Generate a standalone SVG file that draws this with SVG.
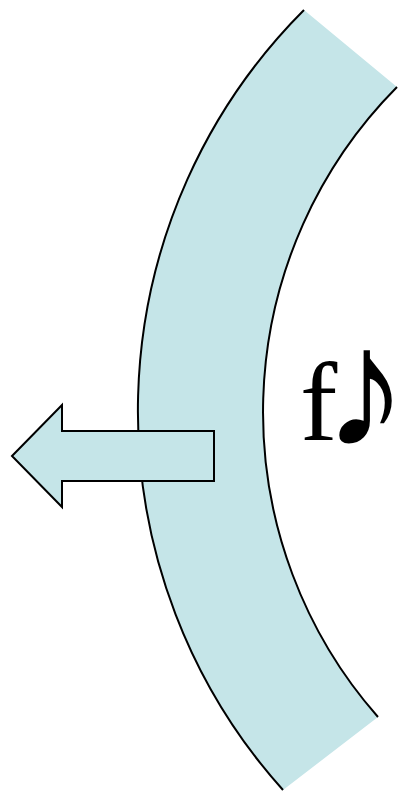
<svg xmlns="http://www.w3.org/2000/svg" width="399" height="792" viewBox="0 0 399 792">
<style>
.fill{fill:#C5E5E8;stroke:none}
.edge{fill:none;stroke:#000;stroke-width:2}
.arrow{fill:#C5E5E8;stroke:#000;stroke-width:2;stroke-linejoin:miter}
.lbl{font-family:"Liberation Serif","DejaVu Serif",serif;font-size:112px;fill:#000}
.note{font-size:170px}
</style>
<g id="band">
<path class="fill" d="M304,10 A567.3,567.3 0 0 0 283,790 L378,717 A461.6,461.6 0 0 1 397,87 Z"/>
<path class="edge" d="M304,10 A567.3,567.3 0 0 0 283,790"/>
<path class="edge" d="M378,717 A461.6,461.6 0 0 1 397,87"/>
</g>
<g id="arrow">
<path class="arrow" d="M12,456 L62,405 L62,431 L214,431 L214,481 L62,481 L62,507 Z"/>
</g>
<g id="label">
<text class="lbl" x="300" y="440">f<tspan class="note" x="323" y="446">♪</tspan></text>
</g>
</svg>
